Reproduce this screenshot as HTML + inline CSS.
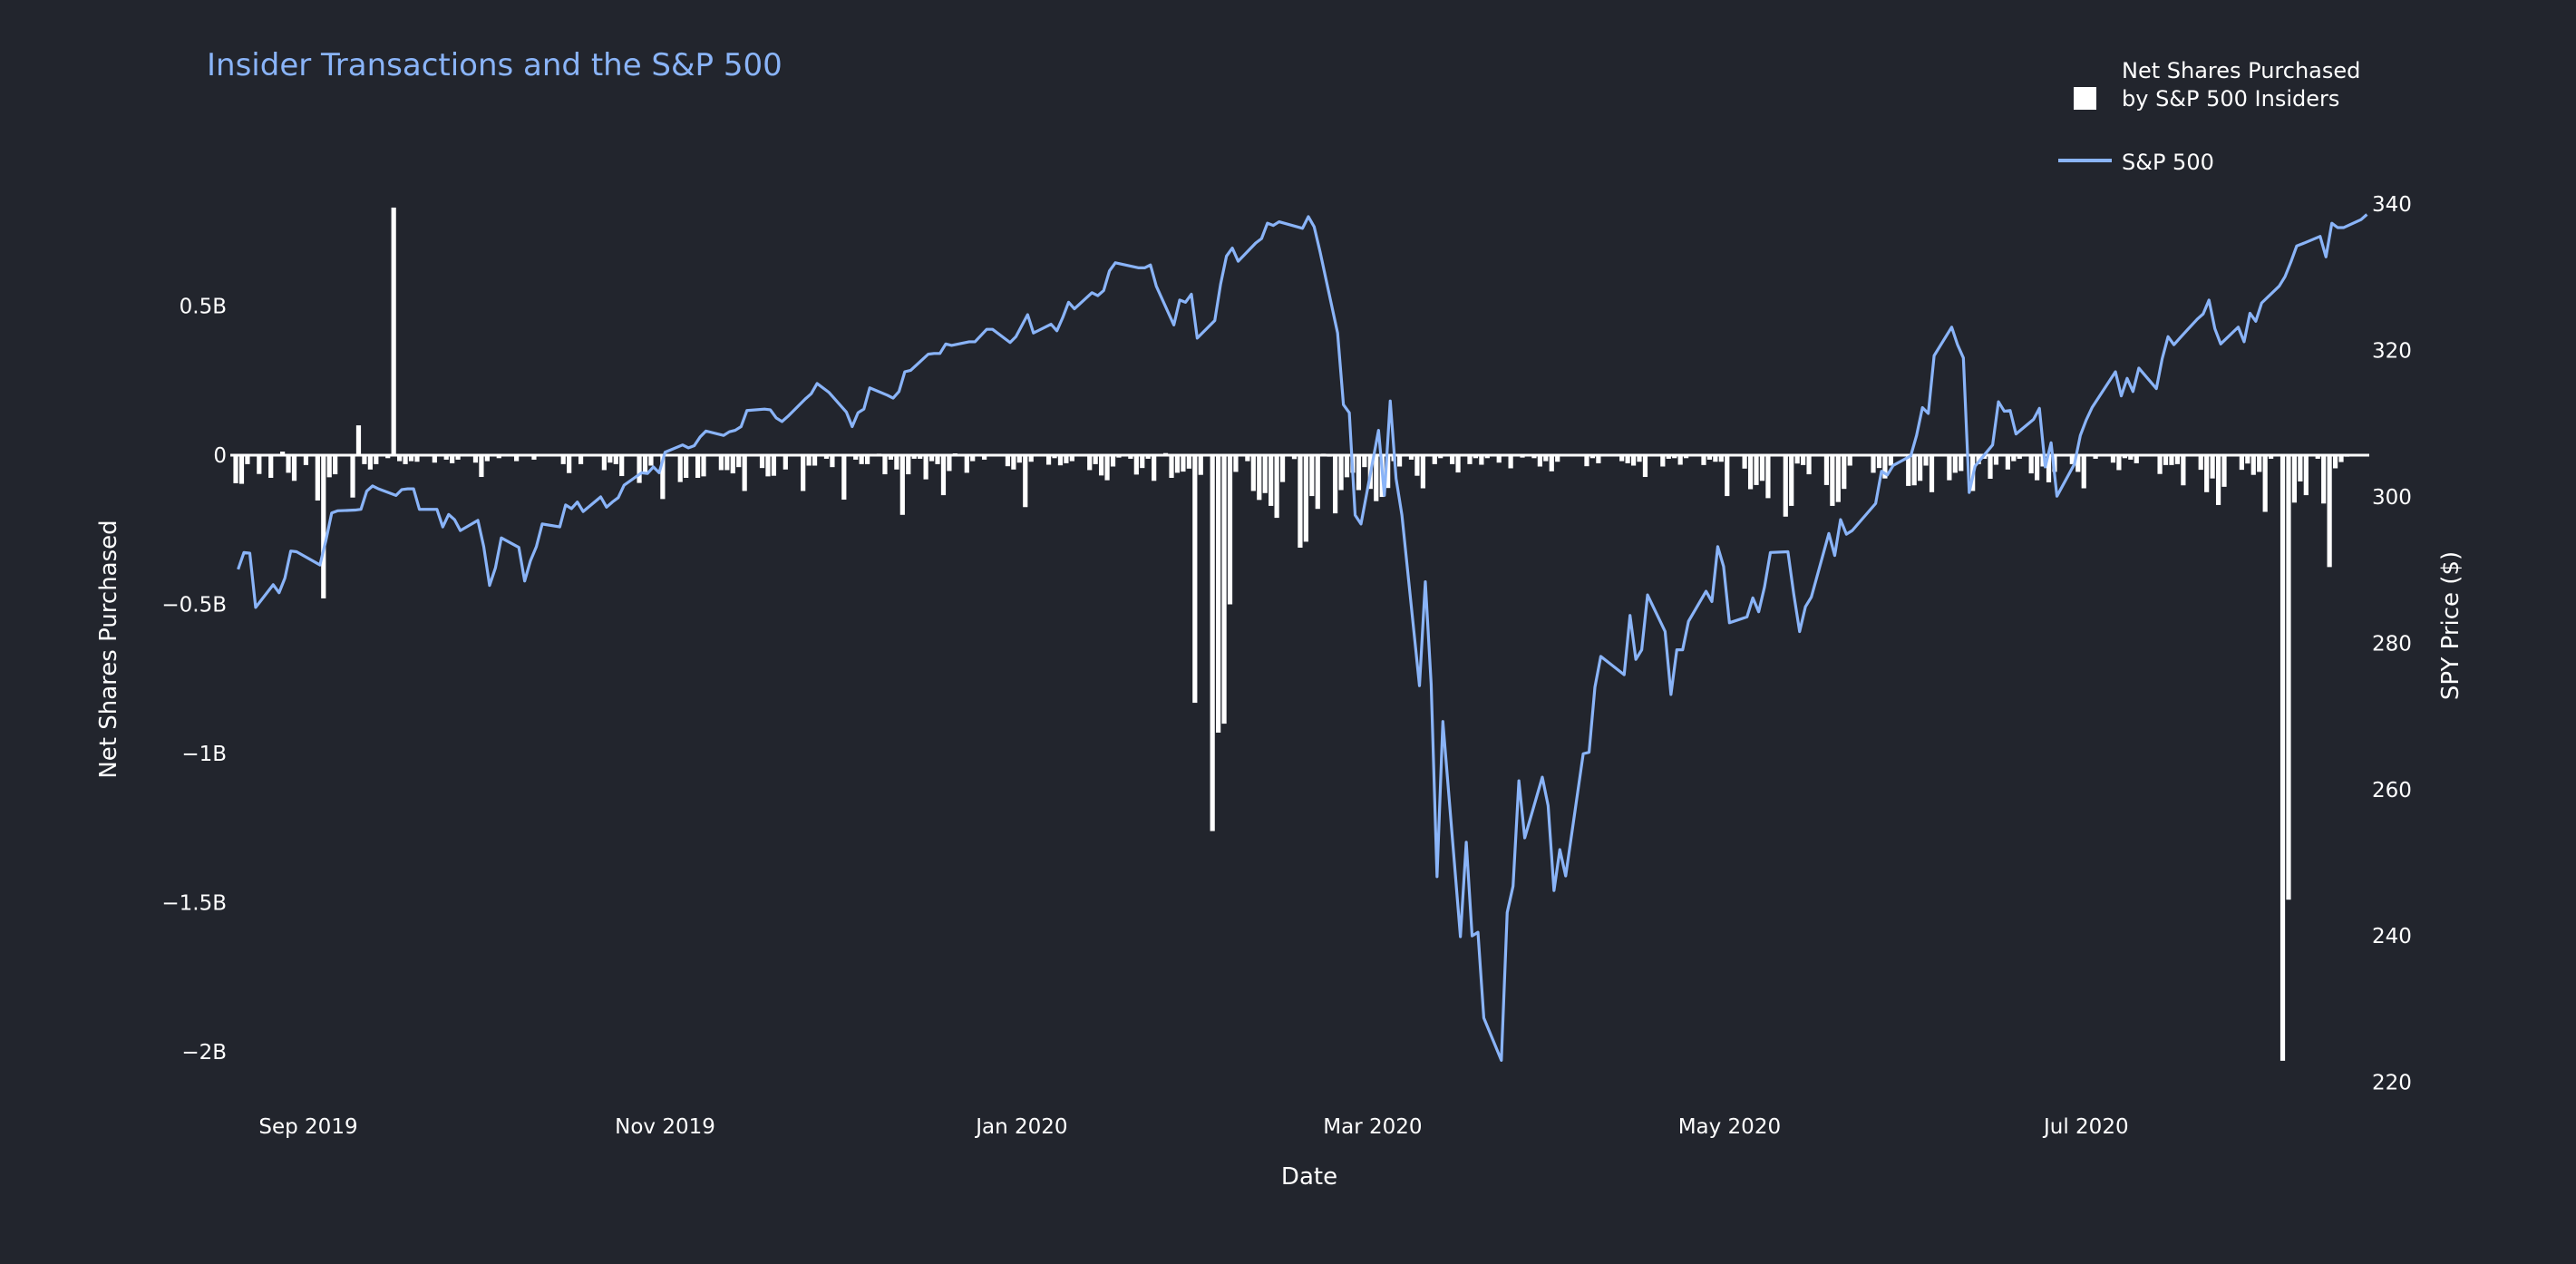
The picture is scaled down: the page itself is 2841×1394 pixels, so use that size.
<!DOCTYPE html>
<html>
<head>
<meta charset="utf-8">
<style>
  html,body{margin:0;padding:0;background:#22252d;}
  svg{display:block;font-family:"DejaVu Sans","Liberation Sans",sans-serif;}
</style>
</head>
<body>
<svg id="chart" width="2841" height="1394" viewBox="0 0 2841 1394">
  <rect x="0" y="0" width="2841" height="1394" fill="#22252d"/>
  <text x="228" y="83" font-size="34" fill="#8ab4f8">Insider Transactions and the S&amp;P 500</text>
  <g>
    <g>
      <rect x="2287" y="96" width="25" height="25" fill="#ffffff"/>
      <text x="2340" y="86" font-size="24" fill="#ffffff">Net Shares Purchased</text>
      <text x="2340" y="117" font-size="24" fill="#ffffff">by S&amp;P 500 Insiders</text>
    </g>
    <g>
      <line x1="2270" y1="177" x2="2329" y2="177" stroke="#8ab4f8" stroke-width="4"/>
      <text x="2340" y="187" font-size="24" fill="#ffffff">S&amp;P 500</text>
    </g>
  </g>
  <text transform="translate(128,716) rotate(-90)" text-anchor="middle" font-size="26" fill="#ffffff">Net Shares Purchased</text>
  <text transform="translate(2711,690) rotate(-90)" text-anchor="middle" font-size="26" fill="#ffffff">SPY Price ($)</text>
  <text x="1444" y="1306" text-anchor="middle" font-size="26" fill="#ffffff">Date</text>
  <g id="bars"></g>
  <g id="axes"></g>
  <g id="line"></g>
</svg>
<script>
// ---- data ----
const barStart = "2019-08-19";
const barValues = [
-0.094,-0.096,-0.03,0,-0.063,0,-0.076,0,0.012,-0.059,-0.086,0,-0.033,
0,-0.152,-0.48,-0.074,-0.064,0,0,-0.142,0.10,-0.03,
-0.048,-0.03,0,-0.01,0.83,-0.02,-0.03,-0.02,-0.022,0,
0,-0.025,0,-0.015,-0.027,-0.015,0,0,-0.025,-0.073,
-0.02,0,-0.01,0,0,-0.02,0,0,-0.015,0,
0,0,0,-0.03,-0.06,0,-0.03,0,0,0,
-0.05,-0.025,-0.03,-0.07,0,0,-0.093,-0.06,-0.035,0,
-0.147,0,0,-0.09,-0.076,0,-0.076,-0.071,0,0,
-0.05,-0.05,-0.061,-0.04,-0.12,0,0,-0.043,-0.071,-0.069,
0,-0.048,0,0,-0.12,-0.035,-0.035,0,-0.012,-0.04,
0,-0.149,0,-0.015,-0.03,-0.03,0,0.005,-0.064,-0.015,
-0.048,-0.2,-0.064,-0.012,-0.012,-0.081,-0.02,-0.03,-0.134,-0.053,
0.006,0,-0.059,-0.02,0,-0.015,0,0,0,-0.037,
-0.048,-0.025,-0.174,-0.022,0,0,-0.032,-0.01,-0.034,-0.027,
-0.02,0,0,-0.05,-0.03,-0.068,-0.084,-0.038,-0.008,0,
-0.012,-0.065,-0.043,-0.012,-0.086,0,0.007,-0.076,-0.059,-0.055,
-0.045,-0.83,-0.066,0,-1.26,-0.93,-0.9,-0.5,-0.056,0,
-0.02,-0.12,-0.15,-0.127,-0.17,-0.21,-0.09,0,-0.013,-0.31,
-0.29,-0.137,-0.18,0.005,-0.005,-0.195,-0.117,-0.074,-0.059,-0.117,
-0.04,-0.113,-0.154,-0.14,-0.11,-0.02,-0.038,0,-0.015,-0.069,
-0.111,0,-0.03,-0.01,0,-0.03,-0.058,0,-0.03,-0.01,
-0.032,-0.01,0,-0.025,0,-0.044,0,-0.008,0,-0.01,
-0.038,-0.02,-0.054,-0.022,0,0,0,0.004,-0.037,-0.01,
-0.027,0,0,0,-0.02,-0.027,-0.035,-0.022,-0.073,0,
0,-0.038,-0.012,-0.01,-0.032,-0.01,0,0,-0.033,-0.015,
-0.022,-0.022,-0.137,0,0,-0.045,-0.114,-0.1,-0.086,-0.144,
0,0,-0.206,-0.17,-0.028,-0.033,-0.064,0,0,-0.1,
-0.17,-0.157,-0.113,-0.035,0,0,0,-0.059,-0.043,-0.078,
-0.035,0,0,-0.103,-0.101,-0.086,-0.035,-0.124,0,0,
-0.084,-0.059,-0.053,0,-0.12,-0.03,-0.012,-0.079,-0.032,0,
-0.048,-0.02,-0.012,0,-0.061,-0.084,-0.038,-0.091,-0.056,0,
0,-0.03,-0.056,-0.111,0,-0.012,0,0,-0.025,-0.05,
-0.01,-0.015,-0.027,0,0,0,-0.063,-0.033,-0.033,-0.03,
-0.101,0,0,-0.049,-0.124,-0.078,-0.167,-0.106,0,0,
-0.049,-0.028,-0.066,-0.056,-0.19,-0.012,0,-2.03,-1.49,-0.159,
-0.088,-0.134,0,-0.012,-0.162,-0.375,-0.044,-0.023,-0.005
];
const spyDates = [
"2019-08-20","2019-08-21","2019-08-22","2019-08-23","2019-08-26","2019-08-27","2019-08-28","2019-08-29","2019-08-30",
"2019-09-03","2019-09-04","2019-09-05","2019-09-06","2019-09-09","2019-09-10","2019-09-11","2019-09-12","2019-09-13","2019-09-16","2019-09-17","2019-09-18","2019-09-19","2019-09-20","2019-09-23","2019-09-24","2019-09-25","2019-09-26","2019-09-27","2019-09-30",
"2019-10-01","2019-10-02","2019-10-03","2019-10-04","2019-10-07","2019-10-08","2019-10-09","2019-10-10","2019-10-11","2019-10-14","2019-10-15","2019-10-16","2019-10-17","2019-10-18","2019-10-21","2019-10-22","2019-10-23","2019-10-24","2019-10-25","2019-10-28","2019-10-29","2019-10-30","2019-10-31",
"2019-11-01","2019-11-04","2019-11-05","2019-11-06","2019-11-07","2019-11-08","2019-11-11","2019-11-12","2019-11-13","2019-11-14","2019-11-15","2019-11-18","2019-11-19","2019-11-20","2019-11-21","2019-11-22","2019-11-25","2019-11-26","2019-11-27","2019-11-29",
"2019-12-02","2019-12-03","2019-12-04","2019-12-05","2019-12-06","2019-12-09","2019-12-10","2019-12-11","2019-12-12","2019-12-13","2019-12-16","2019-12-17","2019-12-18","2019-12-19","2019-12-20","2019-12-23","2019-12-24","2019-12-26","2019-12-27","2019-12-30","2019-12-31",
"2020-01-02","2020-01-03","2020-01-06","2020-01-07","2020-01-08","2020-01-09","2020-01-10","2020-01-13","2020-01-14","2020-01-15","2020-01-16","2020-01-17","2020-01-21","2020-01-22","2020-01-23","2020-01-24","2020-01-27","2020-01-28","2020-01-29","2020-01-30","2020-01-31",
"2020-02-03","2020-02-04","2020-02-05","2020-02-06","2020-02-07","2020-02-10","2020-02-11","2020-02-12","2020-02-13","2020-02-14","2020-02-18","2020-02-19","2020-02-20","2020-02-21","2020-02-24","2020-02-25","2020-02-26","2020-02-27","2020-02-28",
"2020-03-02","2020-03-03","2020-03-04","2020-03-05","2020-03-06","2020-03-09","2020-03-10","2020-03-11","2020-03-12","2020-03-13","2020-03-16","2020-03-17","2020-03-18","2020-03-19","2020-03-20","2020-03-23","2020-03-24","2020-03-25","2020-03-26","2020-03-27","2020-03-30","2020-03-31",
"2020-04-01","2020-04-02","2020-04-03","2020-04-06","2020-04-07","2020-04-08","2020-04-09","2020-04-13","2020-04-14","2020-04-15","2020-04-16","2020-04-17","2020-04-20","2020-04-21","2020-04-22","2020-04-23","2020-04-24","2020-04-27","2020-04-28","2020-04-29","2020-04-30",
"2020-05-01","2020-05-04","2020-05-05","2020-05-06","2020-05-07","2020-05-08","2020-05-11","2020-05-12","2020-05-13","2020-05-14","2020-05-15","2020-05-18","2020-05-19","2020-05-20","2020-05-21","2020-05-22","2020-05-26","2020-05-27","2020-05-28","2020-05-29",
"2020-06-01","2020-06-02","2020-06-03","2020-06-04","2020-06-05","2020-06-08","2020-06-09","2020-06-10","2020-06-11","2020-06-12","2020-06-15","2020-06-16","2020-06-17","2020-06-18","2020-06-19","2020-06-22","2020-06-23","2020-06-24","2020-06-25","2020-06-26","2020-06-29","2020-06-30",
"2020-07-01","2020-07-02","2020-07-06","2020-07-07","2020-07-08","2020-07-09","2020-07-10","2020-07-13","2020-07-14","2020-07-15","2020-07-16","2020-07-17","2020-07-20","2020-07-21","2020-07-22","2020-07-23","2020-07-24","2020-07-27","2020-07-28","2020-07-29","2020-07-30","2020-07-31",
"2020-08-03","2020-08-04","2020-08-05","2020-08-06","2020-08-07","2020-08-10","2020-08-11","2020-08-12","2020-08-13","2020-08-14","2020-08-17","2020-08-18"
];
const spyPrices = [
290.1,292.4,292.3,284.9,288.0,286.9,288.9,292.6,292.5,
290.7,294.0,297.8,298.1,298.2,298.3,300.8,301.5,301.1,300.2,301.0,301.1,301.1,298.3,298.3,295.9,297.6,296.9,295.4,296.8,
293.2,287.9,290.3,294.4,293.1,288.5,291.3,293.2,296.3,295.9,298.9,298.4,299.3,298.0,300.0,298.6,299.3,299.9,301.6,303.3,303.2,304.1,303.3,
306.1,307.1,306.7,307.0,308.2,309.0,308.4,308.9,309.1,309.6,311.8,312.0,311.9,310.8,310.3,311.0,313.4,314.1,315.5,314.3,
311.6,309.6,311.5,312.0,314.9,313.9,313.5,314.4,317.1,317.3,319.5,319.6,319.6,320.9,320.7,321.2,321.2,322.9,322.9,321.1,321.9,
324.9,322.4,323.6,322.7,324.5,326.6,325.7,327.9,327.5,328.2,330.9,332.0,331.3,331.3,331.7,328.8,323.5,326.9,326.6,327.7,321.7,
324.1,329.1,332.9,334.0,332.2,334.7,335.3,337.4,337.1,337.6,336.7,338.3,336.9,333.5,322.4,312.6,311.5,297.5,296.3,
309.1,300.2,313.1,302.5,297.5,274.2,288.4,274.4,248.1,269.3,239.9,252.8,240.0,240.5,228.8,223.0,243.2,246.8,261.2,253.4,261.7,257.8,
246.2,251.8,248.2,264.9,265.1,274.0,278.2,275.7,283.8,277.8,279.1,286.6,281.6,273.0,279.1,279.1,283.0,287.1,285.7,293.2,290.5,
282.8,283.6,286.2,284.3,287.7,292.4,292.5,286.7,281.6,285.0,286.3,295.0,292.0,296.9,294.9,295.4,299.1,303.5,303.0,304.3,
305.6,308.4,312.2,311.4,319.3,323.2,320.8,319.0,300.6,304.2,307.1,313.0,311.7,311.8,308.6,310.6,312.1,304.1,307.4,300.1,304.5,308.4,
310.5,312.2,317.1,313.8,316.2,314.4,317.6,314.8,318.9,321.9,320.8,321.7,324.3,325.0,326.9,323.0,320.9,323.2,321.2,325.1,324.0,326.5,
328.8,330.1,332.1,334.3,334.6,335.6,332.8,337.4,336.8,336.8,337.9,338.6
];
const leftTickValues = [0.5, 0, -0.5, -1, -1.5, -2];
const leftTickLabels = ["0.5B", "0", "\u22120.5B", "\u22121B", "\u22121.5B", "\u22122B"];
const rightTickValues = [220, 240, 260, 280, 300, 320, 340];
const xTickDates = ["2019-09-01","2019-11-01","2020-01-01","2020-03-01","2020-05-01","2020-07-01"];
const xTickLabels = ["Sep 2019","Nov 2019","Jan 2020","Mar 2020","May 2020","Jul 2020"];

// ---- scales ----
const NS = "http://www.w3.org/2000/svg";
const origin = Date.UTC(2019, 8, 1);
function dayOf(s){ const p = s.split("-"); return (Date.UTC(+p[0], +p[1]-1, +p[2]) - origin) / 86400000; }
function xScale(day){ return 340 + 6.45 * day; }
function yLeft(v){ return 502 - v * 329; }
function yRight(p){ return 548 - (p - 300) * 8.07; }
const PLOT_L = 254, PLOT_R = 2613;

// ---- bars ----
const barsG = document.getElementById("bars");
const startDay = dayOf(barStart);
barValues.forEach(function(v, i){
  if (v === 0) return;
  const cx = xScale(startDay + i + 0.6);
  const y0 = yLeft(0), y1 = yLeft(v);
  const r = document.createElementNS(NS, "rect");
  r.setAttribute("x", (cx - 2.6).toFixed(2));
  r.setAttribute("y", Math.min(y0, y1).toFixed(2));
  r.setAttribute("width", "5.2");
  r.setAttribute("height", Math.max(Math.abs(y1 - y0), 0.8).toFixed(2));
  r.setAttribute("fill", "#ffffff");
  
  
  barsG.appendChild(r);
});

// ---- axes ----
const axesG = document.getElementById("axes");
const zl = document.createElementNS(NS, "line");
zl.setAttribute("x1", PLOT_L); zl.setAttribute("x2", PLOT_R);
zl.setAttribute("y1", yLeft(0)); zl.setAttribute("y2", yLeft(0));
zl.setAttribute("stroke", "#ffffff"); zl.setAttribute("stroke-width", "3");


axesG.appendChild(zl);

leftTickValues.forEach(function(v, i){
  const t = document.createElementNS(NS, "text");
  t.setAttribute("x", "250");
  t.setAttribute("y", (yLeft(v) + 8).toFixed(1));
  t.setAttribute("text-anchor", "end");
  t.setAttribute("font-size", "23");
  t.setAttribute("fill", "#ffffff");
  t.textContent = leftTickLabels[i];
  
  
  axesG.appendChild(t);
});
rightTickValues.forEach(function(p){
  const t = document.createElementNS(NS, "text");
  t.setAttribute("x", "2616");
  t.setAttribute("y", (yRight(p) + 8).toFixed(1));
  t.setAttribute("font-size", "23");
  t.setAttribute("fill", "#ffffff");
  t.textContent = String(p);
  
  
  axesG.appendChild(t);
});
xTickDates.forEach(function(d, i){
  const t = document.createElementNS(NS, "text");
  t.setAttribute("x", xScale(dayOf(d)).toFixed(1));
  t.setAttribute("y", "1250");
  t.setAttribute("text-anchor", "middle");
  t.setAttribute("font-size", "23");
  t.setAttribute("fill", "#ffffff");
  t.textContent = xTickLabels[i];
  
  
  axesG.appendChild(t);
});

// ---- line ----
const lineG = document.getElementById("line");
const pts = spyDates.map(function(d, i){ return xScale(dayOf(d)).toFixed(2) + "," + yRight(spyPrices[i]).toFixed(2); });
const pl = document.createElementNS(NS, "polyline");
pl.setAttribute("points", pts.join(" "));
pl.setAttribute("fill", "none");
pl.setAttribute("stroke", "#8ab4f8");
pl.setAttribute("stroke-width", "3.2");
pl.setAttribute("stroke-linejoin", "round");


lineG.appendChild(pl);
</script>
</body>
</html>
